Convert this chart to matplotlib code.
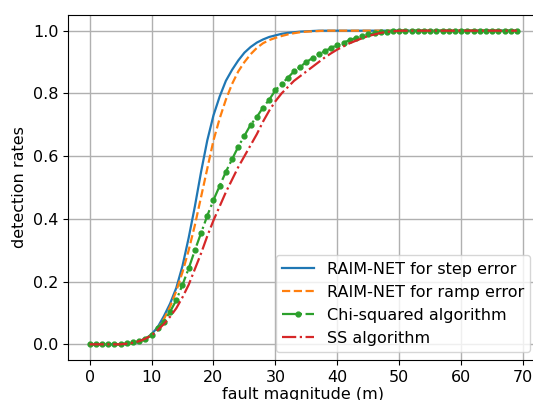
import matplotlib
matplotlib.use('Agg')
import matplotlib.pyplot as plt
import numpy as np

# fault magnitude in metres, one sample per metre
fault = np.arange(0, 70)

# RAIM-NET, step error
step = [0, 0, 0, 0, 0, 0, 0.001, 0.003, 0.008, 0.017, 0.032, 0.055, 0.09, 0.13, 0.18, 0.25,
        0.34, 0.44, 0.55, 0.65, 0.73, 0.79, 0.84, 0.875, 0.905, 0.93, 0.948, 0.962, 0.972, 0.98,
        0.985, 0.99, 0.993, 0.995, 0.997, 0.998, 0.999] + [1.0] * 33

# RAIM-NET, ramp error
ramp = [0, 0, 0, 0, 0, 0, 0.001, 0.003, 0.008, 0.016, 0.03, 0.05, 0.08, 0.12, 0.17, 0.23,
        0.3, 0.38, 0.47, 0.56, 0.65, 0.72, 0.78, 0.83, 0.87, 0.9, 0.925, 0.945, 0.96, 0.97,
        0.977, 0.983, 0.988, 0.992, 0.995, 0.997, 0.998, 0.999] + [1.0] * 32

# Chi-squared test
chi = [0, 0, 0, 0, 0, 0, 0.003, 0.006, 0.01, 0.018, 0.03, 0.052, 0.072, 0.104, 0.141, 0.19,
       0.242, 0.3, 0.355, 0.41, 0.46, 0.505, 0.55, 0.59, 0.63, 0.665, 0.7, 0.725, 0.755, 0.78,
       0.81, 0.83, 0.85, 0.87, 0.885, 0.9, 0.913, 0.925, 0.935, 0.945, 0.955, 0.962, 0.97,
       0.977, 0.983, 0.988, 0.992, 0.995, 0.997, 0.999] + [1.0] * 20

# Solution separation
ss = [0, 0, 0, 0, 0, 0, 0.002, 0.005, 0.01, 0.018, 0.028, 0.045, 0.065, 0.088, 0.115, 0.15,
      0.19, 0.24, 0.29, 0.345, 0.395, 0.44, 0.485, 0.525, 0.565, 0.6, 0.635, 0.67, 0.71, 0.745,
      0.775, 0.8, 0.82, 0.84, 0.855, 0.87, 0.885, 0.9, 0.915, 0.928, 0.94, 0.95, 0.96, 0.968,
      0.976, 0.983, 0.988, 0.993, 0.996, 0.998] + [1.0] * 20

plt.rcParams['font.size'] = 11.5

fig = plt.figure(figsize=(5.33, 4.0), dpi=100)
ax = fig.add_axes([0.128, 0.1, 0.882, 0.8625])

ax.plot(fault, step, '-', color='#1f77b4', lw=1.6, label='RAIM-NET for step error')
ax.plot(fault, ramp, '--', color='#ff7f0e', lw=1.6, label='RAIM-NET for ramp error')
ax.plot(fault, chi, '-.', color='#2ca02c', lw=1.6, marker='.', ms=7,
        label='Chi-squared algorithm')
ax.plot(fault, ss, '-.', color='#d62728', lw=1.6, label='SS algorithm')

ax.set_xticks(np.arange(0, 71, 10))
ax.set_yticks(np.arange(0, 1.01, 0.2))
ax.grid(True, color='#b0b0b0', lw=1.0)
ax.set_xlabel('fault magnitude (m)', labelpad=2)
ax.set_ylabel('detection rates')
ax.legend(loc='lower right', handlelength=2.0)

fig.savefig('out.png', dpi=100)
